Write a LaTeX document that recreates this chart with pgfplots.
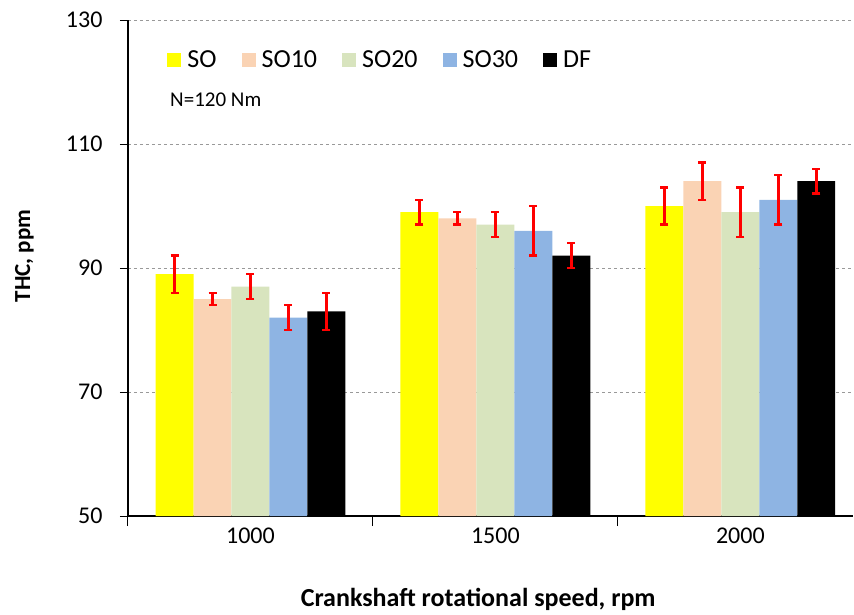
\documentclass[border=0pt]{standalone}
\usepackage{fontspec}
\setmainfont{Carlito}
\usepackage{pgfplots}
\pgfplotsset{compat=1.18}
\definecolor{cSO}{HTML}{FFFF00}
\definecolor{cSOa}{HTML}{FAD3B4}
\definecolor{cSOb}{HTML}{D8E4BE}
\definecolor{cSOc}{HTML}{8EB4E3}
\definecolor{cDF}{HTML}{000000}
\pgfplotsset{leg/.style={legend image code/.code={\fill[##1] (0pt,-7pt) rectangle (14pt,7pt);}}}
\begin{document}
\begin{tikzpicture}[x=1pt,y=1pt]
\begin{axis}[
  at={(0,0)}, anchor=south west,
  scale only axis, width=725pt, height=496pt,
  xmin=-0.5, xmax=2.46, ymin=50, ymax=130,
  ytick={50,70,...,130},
  xtick={0,1,2}, xticklabels={1000,1500,2000},
  minor xtick={-0.5,0.5,1.5},
  every major x tick/.append style={draw opacity=0},
  major tick length=8pt, minor tick length=10pt,
  tick align=outside,
  tick style={black, line width=1pt},
  ymajorgrids, grid style={dashed, gray!80, line width=0.8pt},
  axis lines*=left, axis line style={-, black, line width=1.2pt},
  ybar=0pt, bar width=0.155,
  tick label style={font=\fontsize{24}{28}\selectfont},
  yticklabel style={xshift=-14pt},
  /pgf/number format/assume math mode=true,
  xlabel={Crankshaft rotational speed, rpm},
  xlabel style={at={(axis description cs:0.483,-0.1815)}, anchor=base, font=\bfseries\fontsize{26}{30}\selectfont},
  ylabel={THC, ppm},
  ylabel style={at={(axis description cs:-0.143,0.524)}, anchor=center, font=\bfseries\fontsize{23}{27}\selectfont},
  legend style={draw=none, fill=none, at={(axis description cs:0.05,0.947)}, anchor=north west,
    font=\fontsize{26}{30}\selectfont,
    nodes={inner xsep=6pt},
    /tikz/every even column/.append style={column sep=19pt}},
  legend columns=5,
  error bars/error bar style={red, line width=2.5pt},
  error bars/error mark options={rotate=90, red, mark size=4pt, line width=2.5pt},
]
\addplot[fill=cSO, draw=none, leg, error bars/.cd, y dir=both, y explicit]
  coordinates {(0,89) +- (0,3) (1,99) +- (0,2) (2,100) +- (0,3)};
\addplot[fill=cSOa, draw=none, leg, error bars/.cd, y dir=both, y explicit]
  coordinates {(0,85) +- (0,1) (1,98) +- (0,1) (2,104) +- (0,3)};
\addplot[fill=cSOb, draw=none, leg, error bars/.cd, y dir=both, y explicit]
  coordinates {(0,87) +- (0,2) (1,97) +- (0,2) (2,99) +- (0,4)};
\addplot[fill=cSOc, draw=none, leg, error bars/.cd, y dir=both, y explicit]
  coordinates {(0,82) +- (0,2) (1,96) +- (0,4) (2,101) +- (0,4)};
\addplot[fill=cDF, draw=none, leg, error bars/.cd, y dir=both, y explicit]
  coordinates {(0,83) +- (0,3) (1,92) +- (0,2) (2,104) +- (0,2)};
\legend{SO,SO10,SO20,SO30,DF}
\node[anchor=west, inner sep=0pt, font=\fontsize{21}{25}\selectfont] at (axis description cs:0.058,0.839) {N=120 Nm};
\end{axis}
\pgfresetboundingbox
\path (-128pt,-98pt) rectangle (726pt,516pt);
\end{tikzpicture}
\end{document}
